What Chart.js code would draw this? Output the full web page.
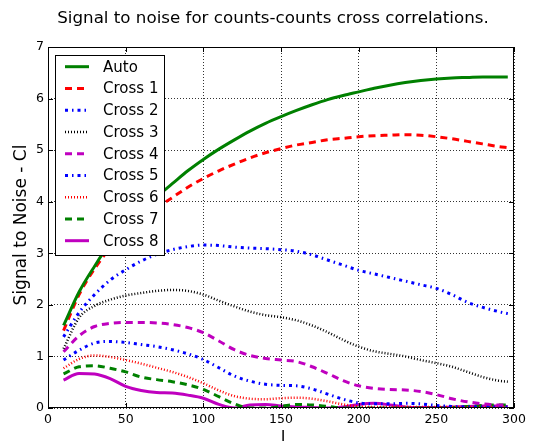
<!DOCTYPE html>
<html><head><meta charset="utf-8">
<script src="https://cdn.jsdelivr.net/npm/chart.js@4"></script>
<style>html,body{margin:0;padding:0;background:#fff}#w{width:543px;height:441px}</style>
</head><body><div id="w"><canvas id="c" width="543" height="441"></canvas></div>
<script>
const ells = [10,20,30,40,50,60,70,80,90,100,110,120,130,140,150,160,170,180,190,200,210,220,230,240,250,260,270,280,290,296];
const auto   = [1.6,2.25,2.75,3.2,3.55,3.85,4.1,4.35,4.6,4.82,5.02,5.2,5.37,5.52,5.65,5.77,5.88,5.98,6.06,6.13,6.2,6.26,6.31,6.35,6.38,6.4,6.41,6.42,6.42,6.42];
const cross1 = [1.5,2.2,2.7,3.1,3.4,3.65,3.88,4.08,4.28,4.45,4.6,4.73,4.85,4.95,5.03,5.1,5.15,5.2,5.23,5.26,5.28,5.29,5.3,5.29,5.26,5.22,5.17,5.12,5.07,5.05];
const cross2 = [1.38,1.85,2.2,2.48,2.68,2.85,2.98,3.07,3.13,3.16,3.15,3.12,3.1,3.09,3.07,3.04,2.97,2.87,2.77,2.67,2.6,2.53,2.46,2.39,2.32,2.2,2.05,1.95,1.87,1.83];
const cross3 = [1.15,1.75,1.98,2.1,2.18,2.23,2.27,2.29,2.27,2.2,2.08,1.97,1.87,1.8,1.76,1.7,1.6,1.47,1.32,1.19,1.1,1.05,1.0,0.93,0.87,0.8,0.7,0.6,0.53,0.51];
const cross4 = [1.09,1.4,1.58,1.64,1.66,1.66,1.65,1.62,1.56,1.46,1.3,1.13,1.02,0.96,0.93,0.9,0.8,0.67,0.53,0.43,0.38,0.36,0.35,0.32,0.26,0.18,0.12,0.08,0.06,0.06];
const cross5 = [0.93,1.12,1.26,1.29,1.27,1.23,1.19,1.13,1.05,0.94,0.78,0.62,0.52,0.46,0.44,0.43,0.37,0.27,0.17,0.1,0.08,0.08,0.09,0.08,0.05,0.03,0.02,0.02,0.02,0.02];
const cross6 = [0.77,0.95,1.02,0.99,0.93,0.86,0.78,0.7,0.6,0.48,0.34,0.23,0.18,0.17,0.19,0.2,0.18,0.13,0.07,0.03,0.02,0.02,0.02,0.02,0.02,0.02,0.02,0.02,0.02,0.02];
const cross7 = [0.66,0.8,0.82,0.77,0.7,0.6,0.55,0.51,0.45,0.36,0.22,0.08,0.0,0.0,0.03,0.07,0.06,0.03,0.0,0.0,0.0,0.0,0.0,0.0,0.0,0.01,0.03,0.05,0.06,0.06];
const cross8 = [0.54,0.67,0.66,0.57,0.42,0.34,0.3,0.29,0.25,0.19,0.07,0.0,0.06,0.07,0.04,0.02,0.01,0.0,0.02,0.07,0.09,0.06,0.02,0.01,0.01,0.02,0.03,0.04,0.04,0.03];
const xTicks = [0,50,100,150,200,250,300];
const yTicks = [0,1,2,3,4,5,6,7];
const seriesNames = ['Auto','Cross 1','Cross 2','Cross 3','Cross 4','Cross 5','Cross 6','Cross 7','Cross 8'];
const seriesData = [auto,cross1,cross2,cross3,cross4,cross5,cross6,cross7,cross8];
const chartTitle = 'Signal to noise for counts-counts cross correlations.';
const xTitle = 'l';
const yTitle = 'Signal to Noise - Cl';

const styles = [
  {c:'#008000', w:3, d:[]},
  {c:'#ff0000', w:3, d:[7,5]},
  {c:'#0000ff', w:3, d:[3,4,1.5,4]},
  {c:'#000000', w:2.5, d:[1,2]},
  {c:'#bf00bf', w:3, d:[7,5]},
  {c:'#0000ff', w:3, d:[3,4,1.5,4]},
  {c:'#ff0000', w:2.5, d:[1,2]},
  {c:'#008000', w:3, d:[7,5]},
  {c:'#bf00bf', w:3, d:[]}
];

const FONT = '"DejaVu Sans", sans-serif';

const datasets = seriesNames.map((n,i)=>({
  label:n,
  data: ells.map((x,j)=>({x:x,y:seriesData[i][j]})),
  borderColor: styles[i].c,
  borderWidth: styles[i].w,
  borderDash: styles[i].d,
  pointRadius:0,
  fill:false,
  cubicInterpolationMode:'monotone',
  borderCapStyle:'butt'
}));

const decor = {
  id:'decor',
  afterDraw(chart){
    const ctx = chart.ctx, a = chart.chartArea;
    const xs = chart.scales.x, ys = chart.scales.y;
    ctx.save();
    ctx.strokeStyle='#000'; ctx.lineWidth=1; ctx.setLineDash([]);
    ctx.strokeRect(a.left+0.5, a.top+0.5, a.right-a.left-1, a.bottom-a.top-1);
    ctx.beginPath();
    xTicks.forEach(v=>{const p=Math.round(xs.getPixelForValue(v))+0.5;
      ctx.moveTo(p,a.bottom); ctx.lineTo(p,a.bottom-5);
      ctx.moveTo(p,a.top); ctx.lineTo(p,a.top+5);});
    yTicks.forEach(v=>{const p=Math.round(ys.getPixelForValue(v))+0.5;
      ctx.moveTo(a.left,p); ctx.lineTo(a.left+5,p);
      ctx.moveTo(a.right,p); ctx.lineTo(a.right-5,p);});
    ctx.stroke();
    ctx.fillStyle='#000';
    ctx.textAlign='center'; ctx.textBaseline='middle';
    ctx.font='16.7px '+FONT;
    ctx.fillText(chartTitle, 273, 19);
    ctx.font='17px '+FONT;
    ctx.textBaseline='alphabetic';
    ctx.fillText(xTitle, 283, 444);
    ctx.textBaseline='middle';
    ctx.translate(22,225); ctx.rotate(-Math.PI/2);
    ctx.fillText(yTitle,0,0);
    ctx.restore();
    // legend
    ctx.save();
    const lx=55, ly=55, lw=109, lh=200;
    ctx.fillStyle='#fff'; ctx.fillRect(lx,ly,lw,lh);
    ctx.strokeStyle='#000'; ctx.lineWidth=1; ctx.strokeRect(lx+0.5,ly+0.5,lw,lh);
    ctx.font='15px '+FONT; ctx.textAlign='left'; ctx.textBaseline='middle';
    seriesNames.forEach((n,i)=>{
      const y = 66.7 + i*21.75;
      ctx.strokeStyle=styles[i].c; ctx.lineWidth=styles[i].w; ctx.setLineDash(styles[i].d);
      ctx.beginPath(); ctx.moveTo(65,y); ctx.lineTo(89,y); ctx.stroke();
      ctx.fillStyle='#000'; ctx.fillText(n,103,y+1);
    });
    ctx.restore();
  }
};

new Chart(document.getElementById('c'),{
  type:'line',
  data:{datasets},
  options:{
    responsive:false, animation:false, devicePixelRatio:1,
    layout:{padding:{top:47,right:29,left:0,bottom:0}},
    plugins:{legend:{display:false},title:{display:false},tooltip:{enabled:false}},
    scales:{
      x:{type:'linear',min:0,max:300,
        afterBuildTicks:(s)=>{s.ticks=xTicks.map(v=>({value:v}));},
        afterFit:(s)=>{s.height=33;},
        border:{display:false,dash:[1,2]},
        grid:{color:'rgba(0,0,0,0.8)',lineWidth:1,drawTicks:false},
        ticks:{color:'#000',font:{family:FONT,size:12.5},padding:4,maxRotation:0}
      },
      y:{type:'linear',min:0,max:7,
        afterBuildTicks:(s)=>{s.ticks=yTicks.map(v=>({value:v}));},
        afterFit:(s)=>{s.width=48;},
        border:{display:false,dash:[1,2]},
        grid:{color:'rgba(0,0,0,0.8)',lineWidth:1,drawTicks:false},
        ticks:{color:'#000',font:{family:FONT,size:12.5},padding:4}
      }
    }
  },
  plugins:[decor]
});
</script>
</body></html>
